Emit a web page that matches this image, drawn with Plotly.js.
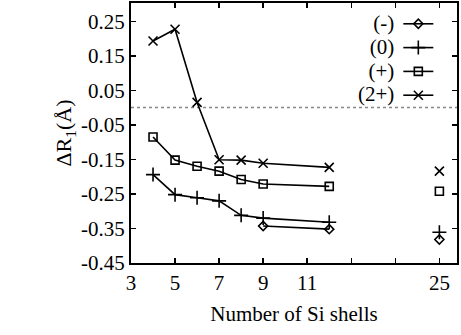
<!DOCTYPE html>
<html><head><meta charset="utf-8">
<script src="https://cdn.plot.ly/plotly-3.0.1.min.js"></script>
<style>html,body{margin:0;padding:0;background:#fff}#chart{width:461px;height:335px}</style>
</head><body><div id="chart"></div>
<script>
// Data
const shells = [4, 5, 6, 7, 8, 9, 12];
const seriesNames = ['(-)', '(0)', '(+)', '(2+)'];
const valsMinus = [null, null, null, null, null, -0.343, -0.352];
const valsZero  = [-0.194, -0.252, -0.261, -0.270, -0.312, -0.320, -0.332];
const valsPlus  = [-0.085, -0.152, -0.170, -0.184, -0.208, -0.221, -0.228];
const vals2Plus = [0.193, 0.227, 0.015, -0.151, -0.152, -0.161, -0.173];
// values at 25 shells (drawn on the broken part of the axis)
const bulkShell = 25;
const bulkAxisPos = 17;
const bulkVals = [-0.382, -0.361, -0.242, -0.184];
const xTickVals = [3, 5, 7, 9, 11, 17];
const xTickText = ['3', '5', '7', '9', '11', '25'];
const yTickVals = [-0.45, -0.35, -0.25, -0.15, -0.05, 0.05, 0.15, 0.25];
const yTickText = ['-0.45', '-0.35', '-0.25', '-0.15', '-0.05', '0.05', '0.15', '0.25'];

const symbols = ['diamond-open', 'cross-thin-open', 'square-open', 'x-thin-open'];
const sizes = [7, 10, 8, 9];
const allVals = [valsMinus, valsZero, valsPlus, vals2Plus];
const FONT = 'Liberation Serif';

const traces = [];
allVals.forEach((v, i) => {
  const xs = [], ys = [];
  shells.forEach((s, j) => { if (v[j] !== null) { xs.push(s); ys.push(v[j]); } });
  traces.push({
    x: xs, y: ys, type: 'scatter', mode: 'lines+markers', name: seriesNames[i],
    line: {color: '#000', width: 1.6},
    marker: {symbol: symbols[i], size: sizes[i], color: '#000', line: {color: '#000', width: 1.6}},
    showlegend: true, legendrank: i
  });
});
allVals.forEach((v, i) => {
  traces.push({
    x: [bulkAxisPos], y: [bulkVals[i]], type: 'scatter', mode: 'markers',
    marker: {symbol: symbols[i], size: sizes[i], color: '#000', line: {color: '#000', width: 1.6}},
    showlegend: false, hovertext: [String(bulkShell)]
  });
});

const layout = {
  width: 461, height: 335,
  margin: {l: 131, r: 4, t: 3, b: 72, autoexpand: false},
  paper_bgcolor: '#fff', plot_bgcolor: '#fff',
  font: {family: FONT, size: 21, color: '#000'},
  showlegend: true,
  legend: {x: 0.82, y: 0.985, xanchor: 'left', yanchor: 'top', bgcolor: 'rgba(0,0,0,0)',
           font: {family: FONT, size: 16}, tracegroupgap: 0},
  xaxis: {range: [3, 17.8], tickvals: xTickVals, ticktext: xTickText, ticks: 'inside', ticklen: 5,
          tickwidth: 1.5, tickcolor: '#000', showline: true, linecolor: '#000', linewidth: 2,
          mirror: 'ticks', showgrid: false, zeroline: false,
          minor: {tick0: 3, dtick: 2, ticks: 'inside', ticklen: 5, tickwidth: 1.5, tickcolor: '#000', showgrid: false},
          title: {text: 'Number of Si shells', font: {family: FONT, size: 21}, standoff: 12}},
  yaxis: {range: [-0.45, 0.303], tickvals: yTickVals, ticktext: yTickText, ticks: 'inside', ticklen: 5,
          tickwidth: 1.5, tickcolor: '#000', showline: true, linecolor: '#000', linewidth: 2,
          mirror: 'ticks', showgrid: false, zeroline: false,
          title: {text: 'ΔR<sub>1</sub>(Å)', font: {family: FONT, size: 22}}},
  shapes: [{type: 'line', xref: 'paper', x0: 0, x1: 1, yref: 'y', y0: 0, y1: 0,
            line: {color: '#888', width: 1.5, dash: 'dot'}, layer: 'below'}]
};
Plotly.newPlot('chart', traces, layout, {staticPlot: true, displayModeBar: false}).then(gd => {
  // Place legend labels to the left of their line samples, as in the reference
  gd.querySelectorAll('.legend .legendtext').forEach(t => {
    t.setAttribute('x', '-4');
    t.setAttribute('text-anchor', 'end');
    t.style.fontSize = '21px';
  });
  gd.querySelectorAll('.legend [clip-path]').forEach(e => e.removeAttribute('clip-path'));
  gd.querySelectorAll('.legend .bg').forEach(e => e.style.display = 'none');
});
</script></body></html>
